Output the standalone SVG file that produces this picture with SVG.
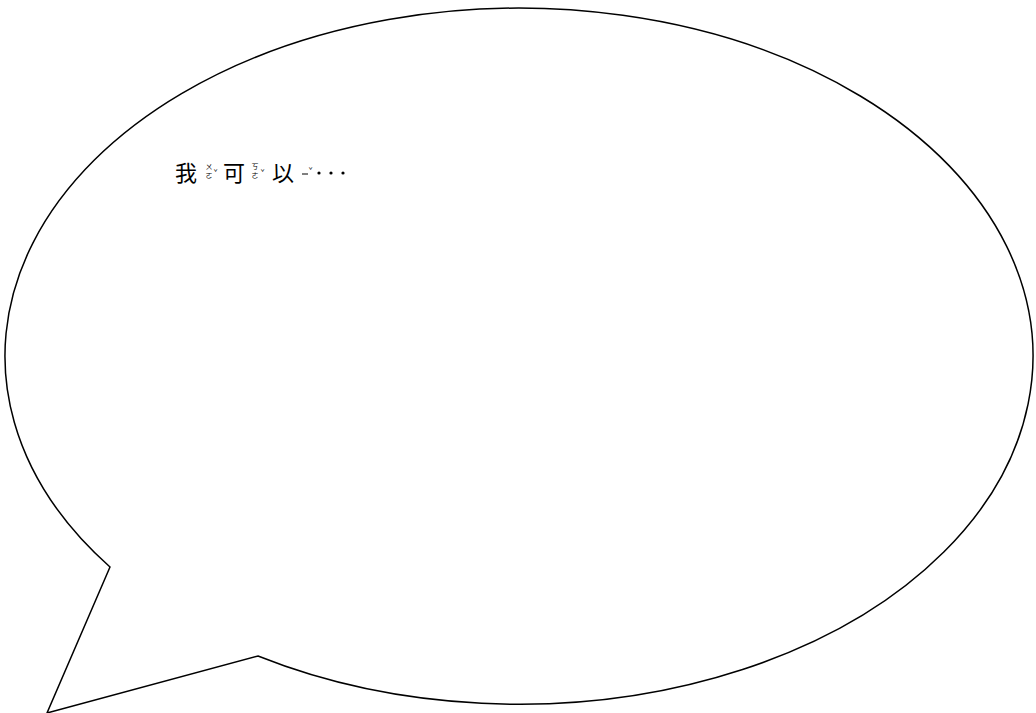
<svg xmlns="http://www.w3.org/2000/svg" width="1036" height="713" viewBox="0 0 1036 713">
<style>
.bub{fill:#fff;stroke:#000;stroke-width:1.5;stroke-linejoin:miter}
.han{font-family:"Noto Sans CJK TC","Noto Sans CJK SC",sans-serif;font-size:22px;fill:#000}
.zy{font-family:"Noto Sans CJK TC","Noto Sans CJK SC",sans-serif;font-size:7px;fill:#000;text-anchor:middle}
</style>
<rect width="1036" height="713" fill="#fff"/>
<g id="bubble">
<path class="bub" d="M110,567 A514,348 0 1 1 258,656 L47,713 Z"/>
</g>
<g id="text">
<text class="han" x="175" y="181">我</text>
<text class="zy" x="209" y="169">ㄨ</text>
<text class="zy" x="209" y="178">ㄛ</text>
<text class="zy" x="215.5" y="175">ˇ</text>
<text class="han" x="223" y="181">可</text>
<text class="zy" x="255" y="169">ㄎ</text>
<text class="zy" x="255" y="178">ㄜ</text>
<text class="zy" x="262.5" y="175">ˇ</text>
<text class="han" x="272" y="181">以</text>
<line x1="302" y1="174" x2="308" y2="174" stroke="#000" stroke-width="1"/>
<text class="zy" x="310.5" y="173">ˇ</text>
<circle cx="319" cy="173" r="1.6" fill="#000"/>
<circle cx="331" cy="173" r="1.6" fill="#000"/>
<circle cx="343" cy="173" r="1.6" fill="#000"/>
</g>
</svg>
